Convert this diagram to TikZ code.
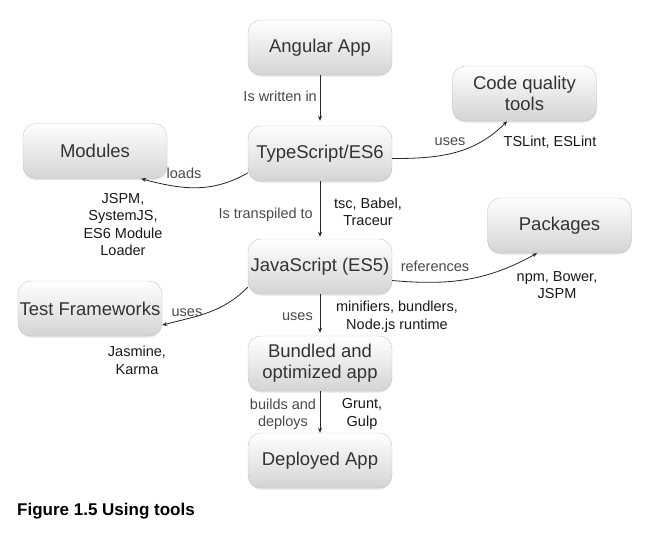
\documentclass[tikz,border=0pt]{standalone}
\usepackage{fontspec}
\setmainfont{Liberation Sans}
\usepackage{tikz}
\usetikzlibrary{arrows.meta,shadows}

\definecolor{boxline}{HTML}{C4C4C4}
\definecolor{boxbottom}{HTML}{D4D4D4}
\definecolor{boxtext}{HTML}{333333}
\definecolor{reltext}{HTML}{4A4A4A}

\begin{document}
\begin{tikzpicture}[x=1pt,y=1pt,
	box/.style={draw=boxline, rounded corners=13pt, minimum width=144pt, minimum height=55pt,
		top color=white, bottom color=boxbottom,
		drop shadow={opacity=.2, shadow xshift=0pt, shadow yshift=-1.5pt},
		font=\fontsize{18.5}{21}\selectfont, text=boxtext, align=center, inner sep=0pt},
	rel/.style={font=\fontsize{14.5}{17.5}\selectfont, text=reltext, align=center, inner sep=0pt},
	tool/.style={font=\fontsize{14.5}{17.5}\selectfont, text=black!90, align=center, inner sep=0pt},
	link/.style={-{Stealth[length=5pt,width=4pt]}, line width=.8pt, draw=black!85}]

	\fill[white] (0,0) rectangle (670,-533);
	\useasboundingbox (0,0) rectangle (670,-533);

	% boxes
	\node[box] (angular) at (320,-47.5) {Angular App};
	\node[box] (ts) at (320,-153.5) {TypeScript/ES6};
	\node[box] (quality) at (524.5,-93.5) {Code quality\\tools};
	\node[box] (modules) at (95,-151) {Modules};
	\node[box] (js) at (320,-266.5) {JavaScript (ES5)};
	\node[box] (packages) at (559.5,-225.5) {Packages};
	\node[box] (tests) at (90,-308.5) {Test Frameworks};
	\node[box] (bundled) at (320,-363.5) {Bundled and\\optimized app};
	\node[box] (deployed) at (320,-460.5) {Deployed App};

	% arrows
	\draw[link, shorten >=5pt] (angular) -- (ts);
	\draw[link, shorten >=2pt] (ts) -- (js);
	\draw[link, shorten >=3pt] (js) -- (bundled);
	\draw[link] (bundled) -- (deployed);
	\draw[link] (ts.-4) to[out=0,in=225] (quality.238);
	\draw[link] (ts.195) to[out=210,in=-15] (modules.-31);
	\draw[link] (js.-11) to[out=-5,in=209] (packages.231);
	\draw[link] (js.196) to[out=225,in=15] (tests.-13);
%	\draw[link] (js.196) to[out=240,in=10] (tests.-13);

	% labels
	\node[rel, anchor=east] (written) at (317,-96) {Is written in};
	\node[rel, anchor=east] (transpiled) at (313,-215) {Is transpiled to};
	\node[tool] (compilers) at (368,-212) {tsc, Babel,\\Traceur};
	\node[rel] (usesquality) at (450,-142) {uses};
	\node[tool] (linters) at (550,-142) {TSLint, ESLint};
	\node[rel] (loads) at (184,-173) {loads};
	\node[tool] (loaders) at (123,-224.5) {JSPM,\\SystemJS,\\ES6 Module\\Loader};
	\node[rel] (references) at (435,-266) {references};
	\node[tool] (registries) at (557,-285) {npm, Bower,\\JSPM};
	\node[rel] (usestests) at (187,-313) {uses};
	\node[tool] (testtools) at (137,-360.5) {Jasmine,\\Karma};
	\node[rel, anchor=east] (usesbundle) at (313,-317) {uses};
	\node[tool] (bundlers) at (397,-316.5) {minifiers, bundlers,\\Node.js runtime};
	\node[rel] (builds) at (283,-414) {builds and\\deploys};
	\node[tool] (buildtools) at (362,-414) {Grunt,\\Gulp};

	\node[anchor=west, inner sep=0pt, font=\bfseries\fontsize{17}{20}\selectfont] (caption) at (17,-511) {Figure 1.5 Using tools};

\end{tikzpicture}
\end{document}
